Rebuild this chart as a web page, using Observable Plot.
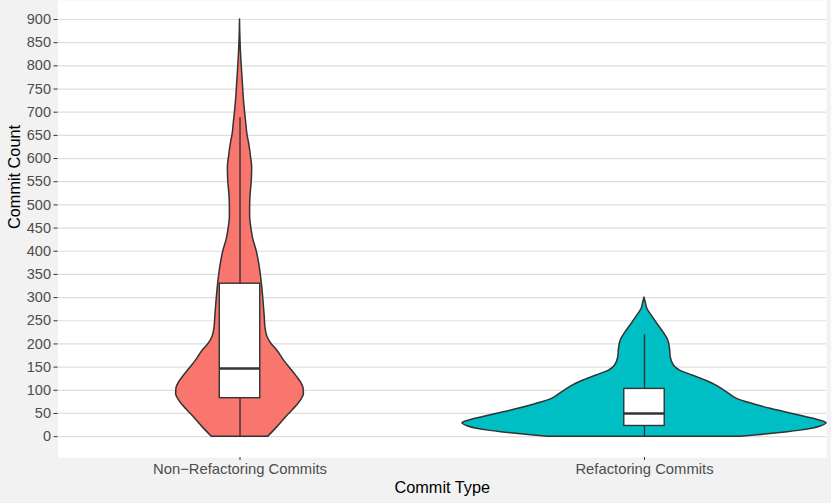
<!DOCTYPE html>
<html>
<head>
<meta charset="utf-8">
<script src="https://cdn.jsdelivr.net/npm/d3@7"></script>
<script src="https://cdn.jsdelivr.net/npm/@observablehq/plot@0.6"></script>
<style>
  html, body { margin: 0; padding: 0; background: #F2F2F2; }
  #chart svg { display: block; }
</style>
</head>
<body>
<div id="chart"></div>
<script>
// ---- Data ----
const categories = ["Non\u2212Refactoring Commits", "Refactoring Commits"];
const fillColors = ["#F8766D", "#00BFC4"];
const yTicks = [0, 50, 100, 150, 200, 250, 300, 350, 400, 450, 500, 550, 600, 650, 700, 750, 800, 850, 900];

// Violin profiles: commit-count level and half width (in category units)
const nonRefLevels =    [0,     20,    42,    67,    80,    92,    105,   118,   130,   142,   164,   186,   200,   215,   235,   260,   293,   330,   370,   401,   425,   450,   475,   494,   520,   550,   580,   605,   630,   654,   680,   704,   735,   762,   790,   818,   860,   900];
const nonRefHalfWidth = [0.070, 0.092, 0.114, 0.141, 0.152, 0.158, 0.157, 0.150, 0.140, 0.129, 0.109, 0.092, 0.078, 0.068, 0.063, 0.061, 0.058, 0.054, 0.048, 0.041, 0.033, 0.028, 0.025, 0.025, 0.026, 0.029, 0.030, 0.027, 0.023, 0.018, 0.015, 0.012, 0.009, 0.007, 0.005, 0.003, 0.001, 0];

const refLevels =    [0,     3,     6,     9.4,   13,    16.5,  22,    28.8,  35,    43,    50,    60,    70,    81,    90,    99,    110,   121,   132,   142,   153,   171,   190,   207,   225,   243,   261,   276,   290,   300];
const refHalfWidth = [0.238, 0.280, 0.317, 0.354, 0.386, 0.411, 0.436, 0.450, 0.433, 0.396, 0.361, 0.312, 0.270, 0.230, 0.213, 0.198, 0.178, 0.151, 0.119, 0.089, 0.073, 0.065, 0.063, 0.059, 0.047, 0.032, 0.018, 0.007, 0.003, 0];

// Box plot statistics per category
const boxQ1 =       [83, 23];
const boxMedian =   [147, 50];
const boxQ3 =       [330, 103];
const whiskerLow =  [0, 0];
const whiskerHigh = [688, 220];

// ---- Build tables ----
const nonRefViolin = nonRefLevels.map((v, i) => ({pos: 1, v, w: nonRefHalfWidth[i]}));
const refViolin = refLevels.map((v, i) => ({pos: 2, v, w: refHalfWidth[i]}));
const boxes = categories.map((c, i) => ({
  pos: i + 1, q1: boxQ1[i], med: boxMedian[i], q3: boxQ3[i], lo: whiskerLow[i], hi: whiskerHigh[i]
}));
const boxHalf = 0.05;
const outline = "#333333";

const violinMark = (data, fill) => Plot.areaX(data, {
  y: "v",
  x1: d => d.pos - d.w,
  x2: d => d.pos + d.w,
  fill,
  stroke: outline,
  strokeWidth: 1.5,
  curve: "monotone-y"
});

const chart = Plot.plot({
  width: 831,
  height: 503,
  marginLeft: 57.5,
  marginRight: 5,
  marginTop: 0,
  marginBottom: 46,
  style: {
    background: "#F2F2F2",
    fontFamily: "'Liberation Sans', Arial, Helvetica, sans-serif",
    fontSize: "14.5px",
    color: "#4D4D4D"
  },
  x: {type: "linear", domain: [0.55, 2.45]},
  y: {domain: [-45, 941]},
  marks: [
    Plot.frame({fill: "white", stroke: "none"}),
    Plot.ruleY(yTicks, {stroke: "#DEDEDE", strokeWidth: 1.2}),
    violinMark(nonRefViolin, fillColors[0]),
    violinMark(refViolin, fillColors[1]),
    Plot.ruleX(boxes, {x: "pos", y1: "lo", y2: "hi", stroke: outline, strokeWidth: 1.4}),
    Plot.rect(boxes, {x1: d => d.pos - boxHalf, x2: d => d.pos + boxHalf, y1: "q1", y2: "q3",
      fill: "white", stroke: outline, strokeWidth: 1.4}),
    Plot.ruleY(boxes, {y: "med", x1: d => d.pos - boxHalf, x2: d => d.pos + boxHalf,
      stroke: outline, strokeWidth: 2.6}),
    Plot.axisY({ticks: yTicks, tickSize: 4, tickPadding: 3, label: null,
      stroke: outline, fill: "#4D4D4D", fontSize: 14.5}),
    Plot.axisX({ticks: [1, 2], tickFormat: d => categories[d - 1], tickSize: 3, tickPadding: 3,
      label: null, stroke: outline, fill: "#4D4D4D", fontSize: 14.8}),
    Plot.text(["Commit Type"], {frameAnchor: "bottom", dy: 30.5, lineAnchor: "middle",
      fontSize: 16.3, fill: "black"}),
    Plot.text(["Commit Count"], {frameAnchor: "left", dx: -43, rotate: -90, lineAnchor: "middle",
      fontSize: 16.3, fill: "black"})
  ]
});
document.getElementById("chart").appendChild(chart);
</script>
</body>
</html>
